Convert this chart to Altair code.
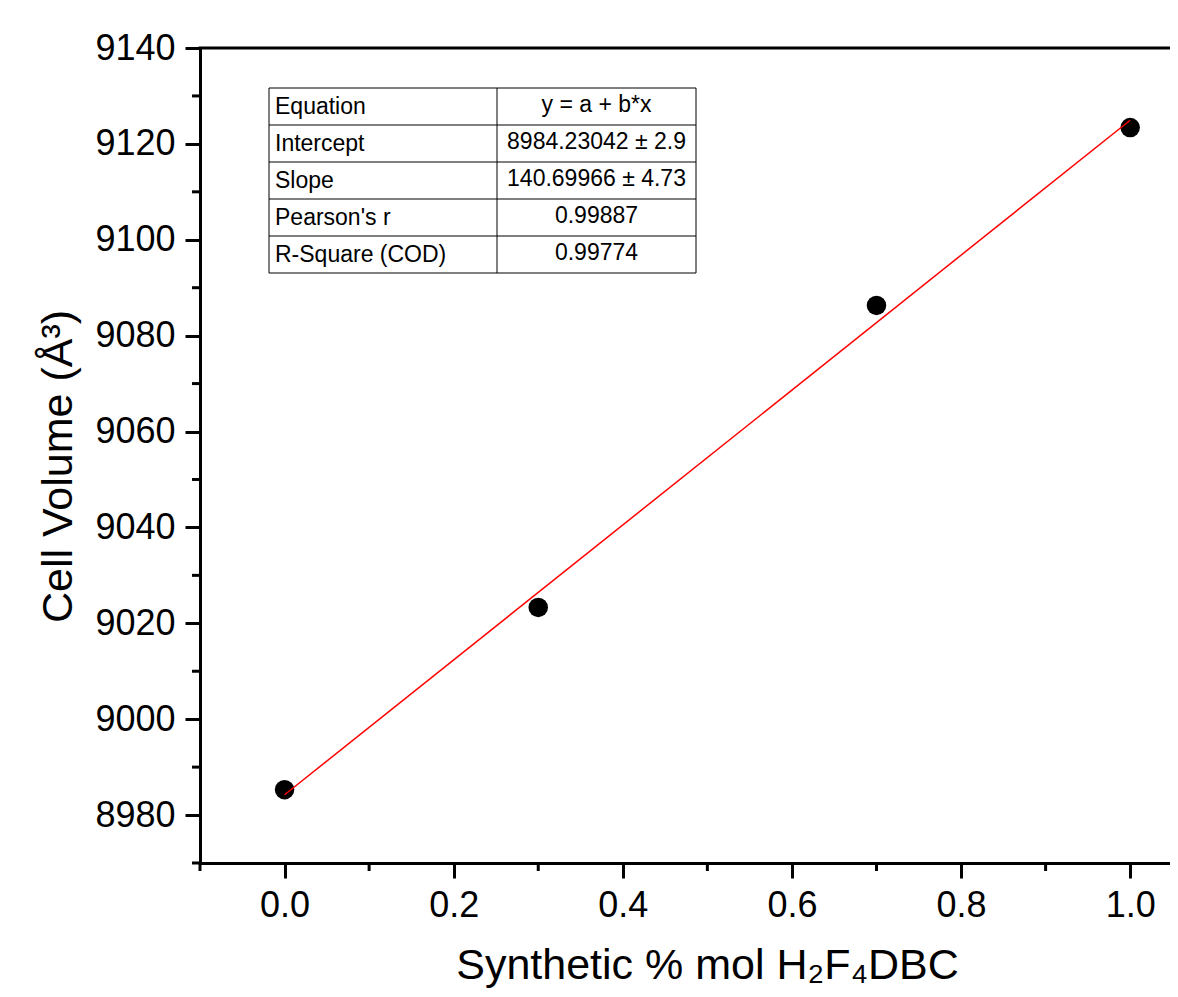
import altair as alt
import pandas as pd

# ---- data ----
comp_x = [0.0, 0.3, 0.7, 1.0]
cell_volume = [8985.3, 9023.3, 9086.3, 9123.4]

intercept = 8984.23042
slope = 140.69966
fit_x = [0.0, 1.0]

table_labels = ["Equation", "Intercept", "Slope", "Pearson's r", "R-Square (COD)"]
table_values = ["y = a + b*x", "8984.23042 \u00b1 2.9", "140.69966 \u00b1 4.73", "0.99887", "0.99774"]

x_major = [0.0, 0.2, 0.4, 0.6, 0.8, 1.0]
x_minor = [-0.1, 0.1, 0.3, 0.5, 0.7, 0.9]
y_major = [8980, 9000, 9020, 9040, 9060, 9080, 9100, 9120, 9140]
y_minor = [8970, 8990, 9010, 9030, 9050, 9070, 9090, 9110, 9130]

# ---- layout ----
W, H = 970, 815
FONT = "Arial, Liberation Sans, sans-serif"
x_dom = [-0.1, 1.0471]
y_dom = [8970, 9140]

xs = alt.Scale(domain=x_dom, nice=False, zero=False)
ys = alt.Scale(domain=y_dom, nice=False, zero=False)

pts_df = pd.DataFrame({"x": comp_x, "y": cell_volume})
fit_df = pd.DataFrame({"x": fit_x, "y": [intercept + slope * v for v in fit_x]})

x_axis = alt.Axis(values=x_major, format=".1f", title="Synthetic % mol H\u2082F\u2084DBC",
                  titlePadding=21, titleX=507)
y_axis = alt.Axis(values=y_major, format="d", title="Cell Volume (\u00c5\u00b3)",
                  titlePadding=14, titleY=418)

points = alt.Chart(pts_df).mark_circle(size=380, color="black", opacity=1).encode(
    x=alt.X("x:Q", scale=xs, axis=x_axis),
    y=alt.Y("y:Q", scale=ys, axis=y_axis),
)

fit = alt.Chart(fit_df).mark_line(color="#ff0000", strokeWidth=1.5).encode(
    x=alt.X("x:Q", scale=xs),
    y=alt.Y("y:Q", scale=ys),
)

ymin_df = pd.DataFrame({"y": y_minor})
y_minor_ticks = alt.Chart(ymin_df).mark_rule(color="black", strokeWidth=3).encode(
    y=alt.Y("y:Q", scale=ys),
    x=alt.value(-8), x2=alt.value(0),
)
xmin_df = pd.DataFrame({"x": x_minor})
x_minor_ticks = alt.Chart(xmin_df).mark_rule(color="black", strokeWidth=3).encode(
    x=alt.X("x:Q", scale=xs),
    y=alt.value(H), y2=alt.value(H + 8),
)

one = pd.DataFrame({"i": [0]})
top_line = alt.Chart(one).mark_rule(color="black", strokeWidth=3).encode(
    x=alt.value(-1.5), x2=alt.value(W), y=alt.value(0)
)

# ---- fit-results table ----
t_left, t_right, t_div = 69, 496, 297
t_top, row_h = 40, 37
n_rows = len(table_labels)
t_bottom = t_top + n_rows * row_h
T_FS = 23

table_layers = [
    alt.Chart(one).mark_rect(fill="white", stroke="black", strokeWidth=1).encode(
        x=alt.value(t_left), x2=alt.value(t_right), y=alt.value(t_top), y2=alt.value(t_bottom)
    ),
    alt.Chart(one).mark_rule(color="black", strokeWidth=1).encode(
        x=alt.value(t_div), y=alt.value(t_top), y2=alt.value(t_bottom)
    ),
]
for i in range(1, n_rows):
    yy = t_top + i * row_h
    table_layers.append(
        alt.Chart(one).mark_rule(color="black", strokeWidth=1).encode(
            x=alt.value(t_left), x2=alt.value(t_right), y=alt.value(yy)
        )
    )
for i, (lab, val) in enumerate(zip(table_labels, table_values)):
    yc = t_top + (i + 0.5) * row_h
    table_layers.append(
        alt.Chart(one).mark_text(text=lab, align="left", baseline="middle",
                                 font=FONT, fontSize=T_FS, color="black").encode(
            x=alt.value(t_left + 6), y=alt.value(yc)
        )
    )
    table_layers.append(
        alt.Chart(one).mark_text(text=val, align="center", baseline="middle",
                                 font=FONT, fontSize=T_FS, color="black").encode(
            x=alt.value((t_div + t_right) / 2), y=alt.value(yc - 2)
        )
    )

chart = alt.layer(
    y_minor_ticks, x_minor_ticks, top_line, *table_layers, points, fit
).properties(
    width=W, height=H,
    autosize=alt.AutoSizeParams(type="none"),
    padding={"left": 192, "top": 40, "right": 0, "bottom": 126},
).configure_view(
    stroke=None
).configure_axis(
    labelFont=FONT, labelFontSize=36, labelColor="black",
    titleFont=FONT, titleFontSize=43, titleFontWeight="normal", titleColor="black",
    domainColor="black", domainWidth=3, tickColor="black", tickWidth=3,
    tickSize=15, labelPadding=10, grid=False,
)

chart.save("out.html", embed_options={"renderer": "svg", "actions": False})
